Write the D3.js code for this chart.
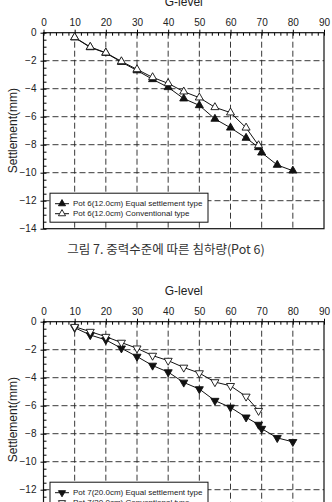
<!DOCTYPE html>
<html>
<head>
<meta charset="utf-8">
<script src="https://cdn.jsdelivr.net/npm/d3@7"></script>
<style>
  body { margin: 0; background: #fff; }
  svg { display: block; }
</style>
</head>
<body>
<svg id="chart"></svg>
<script>
// G-level values and settlement (mm)
const gTop = [10, 15, 20, 25, 30, 35, 40, 45, 50, 55, 60, 65, 69, 70, 75, 80];
const pot6Equal = [-0.35, -1.05, -1.45, -2.1, -2.7, -3.33, -3.9, -4.71, -5.19, -6.16, -6.79, -7.52, -8.19, -8.57, -9.45, -9.86];
const gTopConv = [10, 15, 20, 25, 30, 35, 40, 45, 50, 55, 60, 65, 69];
const pot6Conv = [-0.33, -1.02, -1.43, -2.05, -2.62, -3.19, -3.62, -4.21, -4.64, -5.33, -5.71, -6.79, -8.05];

const gBot = [10, 15, 20, 25, 30, 35, 40, 45, 50, 55, 60, 65, 69, 70, 75, 80];
const pot7Equal = [-0.43, -0.95, -1.3, -1.9, -2.49, -3.13, -3.6, -4.34, -4.81, -5.64, -6.12, -6.83, -7.35, -7.64, -8.3, -8.58];
const gBotConv = [10, 15, 20, 25, 30, 35, 40, 45, 50, 55, 60, 65, 69];
const pot7Conv = [-0.36, -0.71, -1.07, -1.49, -1.9, -2.42, -2.78, -3.27, -3.67, -4.31, -4.58, -5.34, -6.36];

const xTicks = [0, 10, 20, 30, 40, 50, 60, 70, 80, 90];
const yTicks = [0, -2, -4, -6, -8, -10, -12, -14];

const width = 332;
const height = 502;
const font = "'Liberation Sans', Arial, sans-serif";

const svg = d3.select("svg#chart").attr("width", width).attr("height", height);

function drawChart(cfg) {
  const { top, series, legend, caption } = cfg;
  const left = 43.5, right = 324;
  const plotH = 196;

  const x = d3.scaleLinear([0, 90], [left, right]);
  const y = d3.scaleLinear([0, -14], [top, top + plotH]);

  const g = svg.append("g");

  // dashed grid
  g.selectAll("line.vgrid")
    .data(xTicks.slice(1, -1))
    .join("line")
    .attr("x1", d => x(d)).attr("x2", d => x(d))
    .attr("y1", top).attr("y2", top + plotH)
    .attr("stroke", "#222").attr("stroke-width", 0.9)
    .attr("stroke-dasharray", "6,3");

  g.selectAll("line.hgrid")
    .data(yTicks.slice(1, -1))
    .join("line")
    .attr("x1", left).attr("x2", right)
    .attr("y1", d => y(d)).attr("y2", d => y(d))
    .attr("stroke", "#222").attr("stroke-width", 0.9)
    .attr("stroke-dasharray", "6,3");

  // frame
  g.append("rect")
    .attr("x", left).attr("y", top)
    .attr("width", right - left).attr("height", plotH)
    .attr("fill", "none").attr("stroke", "#111").attr("stroke-width", 1.2);

  // x axis on top
  const xAxis = d3.axisTop(x).tickValues(xTicks).tickSize(3).tickPadding(4);
  const xa = g.append("g").attr("transform", `translate(0,${top})`).call(xAxis)
    .attr("font-family", font).attr("font-size", 10);
  xa.select(".domain").remove();
  xa.selectAll("text").attr("fill", "#222");

  const xMinor = d3.axisTop(x).tickValues(d3.range(0, 91, 2)).tickSize(-3).tickFormat("");
  g.append("g").attr("transform", `translate(0,${top})`).call(xMinor).select(".domain").remove();

  // y axis
  const yAxis = d3.axisLeft(y).tickValues(yTicks).tickSize(3).tickPadding(4);
  const ya = g.append("g").attr("transform", `translate(${left},0)`).call(yAxis)
    .attr("font-family", font).attr("font-size", 10);
  ya.select(".domain").remove();
  ya.selectAll("text").attr("fill", "#222");

  const yMinor = d3.axisLeft(y).tickValues(d3.range(0, -14.01, -0.5)).tickSize(-3).tickFormat("");
  g.append("g").attr("transform", `translate(${left},0)`).call(yMinor).select(".domain").remove();

  // titles
  g.append("text")
    .attr("x", (left + right) / 2).attr("y", top - 27)
    .attr("text-anchor", "middle")
    .style("font-family", font)
    .style("font-size", "12px").attr("fill", "#222")
    .text("G-level");

  g.append("text")
    .attr("transform", `translate(17,${top + plotH / 2}) rotate(-90)`)
    .attr("text-anchor", "middle")
    .style("font-family", font)
    .style("font-size", "12px").attr("fill", "#222")
    .text("Settlement(mm)");

  // lines and markers
  const line = d3.line().x(d => x(d[0])).y(d => y(d[1]));

  series.forEach(s => {
    const pts = s.g.map((v, i) => [v, s.v[i]]);
    g.append("path")
      .attr("d", line(pts))
      .attr("fill", "none").attr("stroke", "#111").attr("stroke-width", 1);

    g.selectAll(null)
      .data(pts)
      .join("path")
      .attr("d", d3.symbol(d3.symbolTriangle, 28))
      .attr("transform", d => `translate(${x(d[0])},${y(d[1])}) rotate(${s.down ? 180 : 0})`)
      .attr("fill", s.filled ? "#111" : "#fff")
      .attr("stroke", "#111").attr("stroke-width", 0.9);
  });

  // legend
  const lg = g.append("g").attr("transform", `translate(50,${top + 160.5})`);
  lg.append("rect")
    .attr("width", 158).attr("height", 29)
    .attr("fill", "#fff").attr("stroke", "#111").attr("stroke-width", 1);

  series.forEach((s, i) => {
    const ly = 10.5 + i * 10;
    lg.append("line")
      .attr("x1", 5).attr("x2", 19).attr("y1", ly).attr("y2", ly)
      .attr("stroke", "#111").attr("stroke-width", 1);
    lg.append("path")
      .attr("d", d3.symbol(d3.symbolTriangle, 22))
      .attr("transform", `translate(12,${ly}) rotate(${s.down ? 180 : 0})`)
      .attr("fill", s.filled ? "#111" : "#fff")
      .attr("stroke", "#111").attr("stroke-width", 0.9);
    lg.append("text")
      .attr("x", 23).attr("y", ly).attr("dy", "0.35em")
      .style("font-family", font)
      .style("font-size", "8px").attr("fill", "#222")
      .text(legend[i]);
  });

  if (caption) {
    svg.append("text")
      .attr("x", 166).attr("y", top + plotH + 25)
      .attr("text-anchor", "middle")
      .style("font-family", "'Noto Sans CJK KR', sans-serif")
      .style("font-size", "12.5px").attr("fill", "#333")
      .text(caption);
  }
}

drawChart({
  top: 32.7,
  series: [
    { g: gTop, v: pot6Equal, filled: true, down: false },
    { g: gTopConv, v: pot6Conv, filled: false, down: false }
  ],
  legend: ["Pot 6(12.0cm) Equal settlement type", "Pot 6(12.0cm) Conventional type"],
  caption: "그림 7. 중력수준에 따른 침하량(Pot 6)"
});

drawChart({
  top: 321.7,
  series: [
    { g: gBot, v: pot7Equal, filled: true, down: true },
    { g: gBotConv, v: pot7Conv, filled: false, down: true }
  ],
  legend: ["Pot 7(20.0cm) Equal settlement type", "Pot 7(20.0cm) Conventional type"],
  caption: null
});
</script>
</body>
</html>
